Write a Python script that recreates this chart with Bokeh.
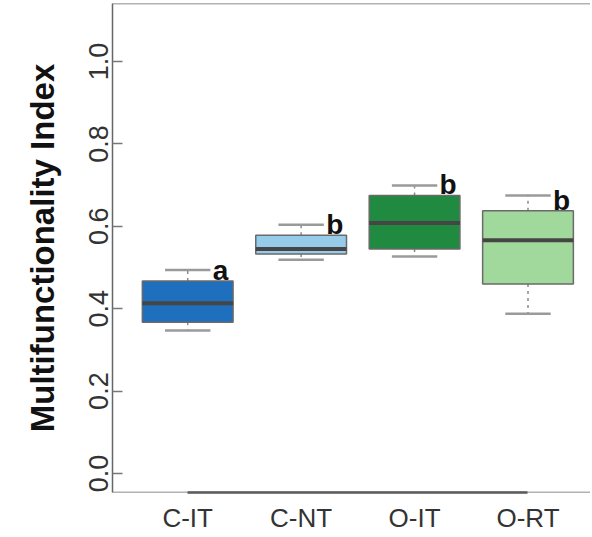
from bokeh.plotting import figure
from bokeh.models import Range1d, FixedTicker, PrintfTickFormatter, Span, ColumnDataSource
from bokeh.core.properties import value
from bokeh.embed import file_html
from bokeh.resources import INLINE

categories = ["C-IT", "C-NT", "O-IT", "O-RT"]
lower_whisker = [0.347, 0.519, 0.527, 0.388]
q1 = [0.367, 0.533, 0.545, 0.460]
median = [0.413, 0.545, 0.608, 0.566]
q3 = [0.467, 0.578, 0.675, 0.638]
upper_whisker = [0.494, 0.604, 0.699, 0.675]
letters = ["a", "b", "b", "b"]
colors = ["#1F6FBF", "#97CBEA", "#208A40", "#A0D99B"]
y_ticks = [0.0, 0.2, 0.4, 0.6, 0.8, 1.0]

FONT = "Liberation Sans"
BOX_W = 0.8
CAP_W = 0.4

xs = [i + 1 for i in range(len(categories))]
src = ColumnDataSource(dict(
    x=xs,
    x_left=[x - BOX_W / 2 for x in xs],
    x_right=[x + BOX_W / 2 for x in xs],
    cap_left=[x - CAP_W / 2 for x in xs],
    cap_right=[x + CAP_W / 2 for x in xs],
    lw=lower_whisker, q1=q1, med=median, q3=q3, uw=upper_whisker,
    letter=letters, color=colors,
))

y_start, y_end = -0.0461, 1.1408
p = figure(width=590, height=535, output_backend="svg", toolbar_location=None,
           x_range=Range1d(0.337, 4.551), y_range=Range1d(y_start, y_end),
           min_border_left=112, min_border_right=0, min_border_top=3,
           min_border_bottom=43)
p.grid.visible = False
p.outline_line_color = None
p.background_fill_color = "white"
p.border_fill_color = "white"

# whiskers (dashed stems)
p.segment(x0="x", y0="q3", x1="x", y1="uw", source=src, line_color="#8a8a8a",
          line_width=1.5, line_dash="3 4")
p.segment(x0="x", y0="q1", x1="x", y1="lw", source=src, line_color="#8a8a8a",
          line_width=1.5, line_dash="3 4")
# caps
p.segment(x0="cap_left", y0="uw", x1="cap_right", y1="uw", source=src,
          line_color="#9a9a9a", line_width=2.5)
p.segment(x0="cap_left", y0="lw", x1="cap_right", y1="lw", source=src,
          line_color="#9a9a9a", line_width=2.5)
# boxes
p.vbar(x="x", width=BOX_W, bottom="q1", top="q3", source=src, fill_color="color",
       line_color="#6a6a6a", line_width=1.5)
# medians
p.segment(x0="x_left", y0="med", x1="x_right", y1="med", source=src,
          line_color="#454545", line_width=4)
# significance letters
p.text(x="x", y="q3", text="letter", source=src, x_offset=25, y_offset=5,
       text_font=value(FONT), text_font_style="bold", text_font_size="28px",
       text_align="left", text_baseline="bottom", text_color="#111111")

# frame lines
p.add_layout(Span(location=y_end, dimension="width", line_color="#666666", line_width=1.5))
p.add_layout(Span(location=y_start, dimension="width", line_color="#666666", line_width=1.5))

# y axis
ya = p.yaxis[0]
ya.ticker = FixedTicker(ticks=y_ticks)
ya.formatter = PrintfTickFormatter(format="%.1f")
ya.major_tick_in = 10
ya.major_tick_out = 0
ya.minor_tick_line_color = None
ya.major_tick_line_color = "#777777"
ya.major_tick_line_width = 1.5
ya.axis_line_color = "#666666"
ya.axis_line_width = 1.5
ya.major_label_orientation = "vertical"
ya.major_label_text_font = FONT
ya.major_label_text_font_size = "27px"
ya.major_label_text_color = "#333333"
ya.major_label_standoff = 4
ya.axis_label = "Multifunctionality Index"
ya.axis_label_text_font = FONT
ya.axis_label_text_font_style = "bold"
ya.axis_label_text_font_size = "33px"
ya.axis_label_text_color = "#111111"
ya.axis_label_standoff = 26

# x axis
xa = p.xaxis[0]
xa.ticker = FixedTicker(ticks=xs)
xa.major_label_overrides = {x: c for x, c in zip(xs, categories)}
xa.bounds = (xs[0], xs[-1])
xa.major_tick_in = 0
xa.major_tick_out = 0
xa.minor_tick_line_color = None
xa.axis_line_color = "#555555"
xa.axis_line_width = 2.5
xa.major_label_text_font = FONT
xa.major_label_text_font_size = "26px"
xa.major_label_text_color = "#333333"
xa.major_label_standoff = 10

open("out.html", "w").write(file_html(p, INLINE))
